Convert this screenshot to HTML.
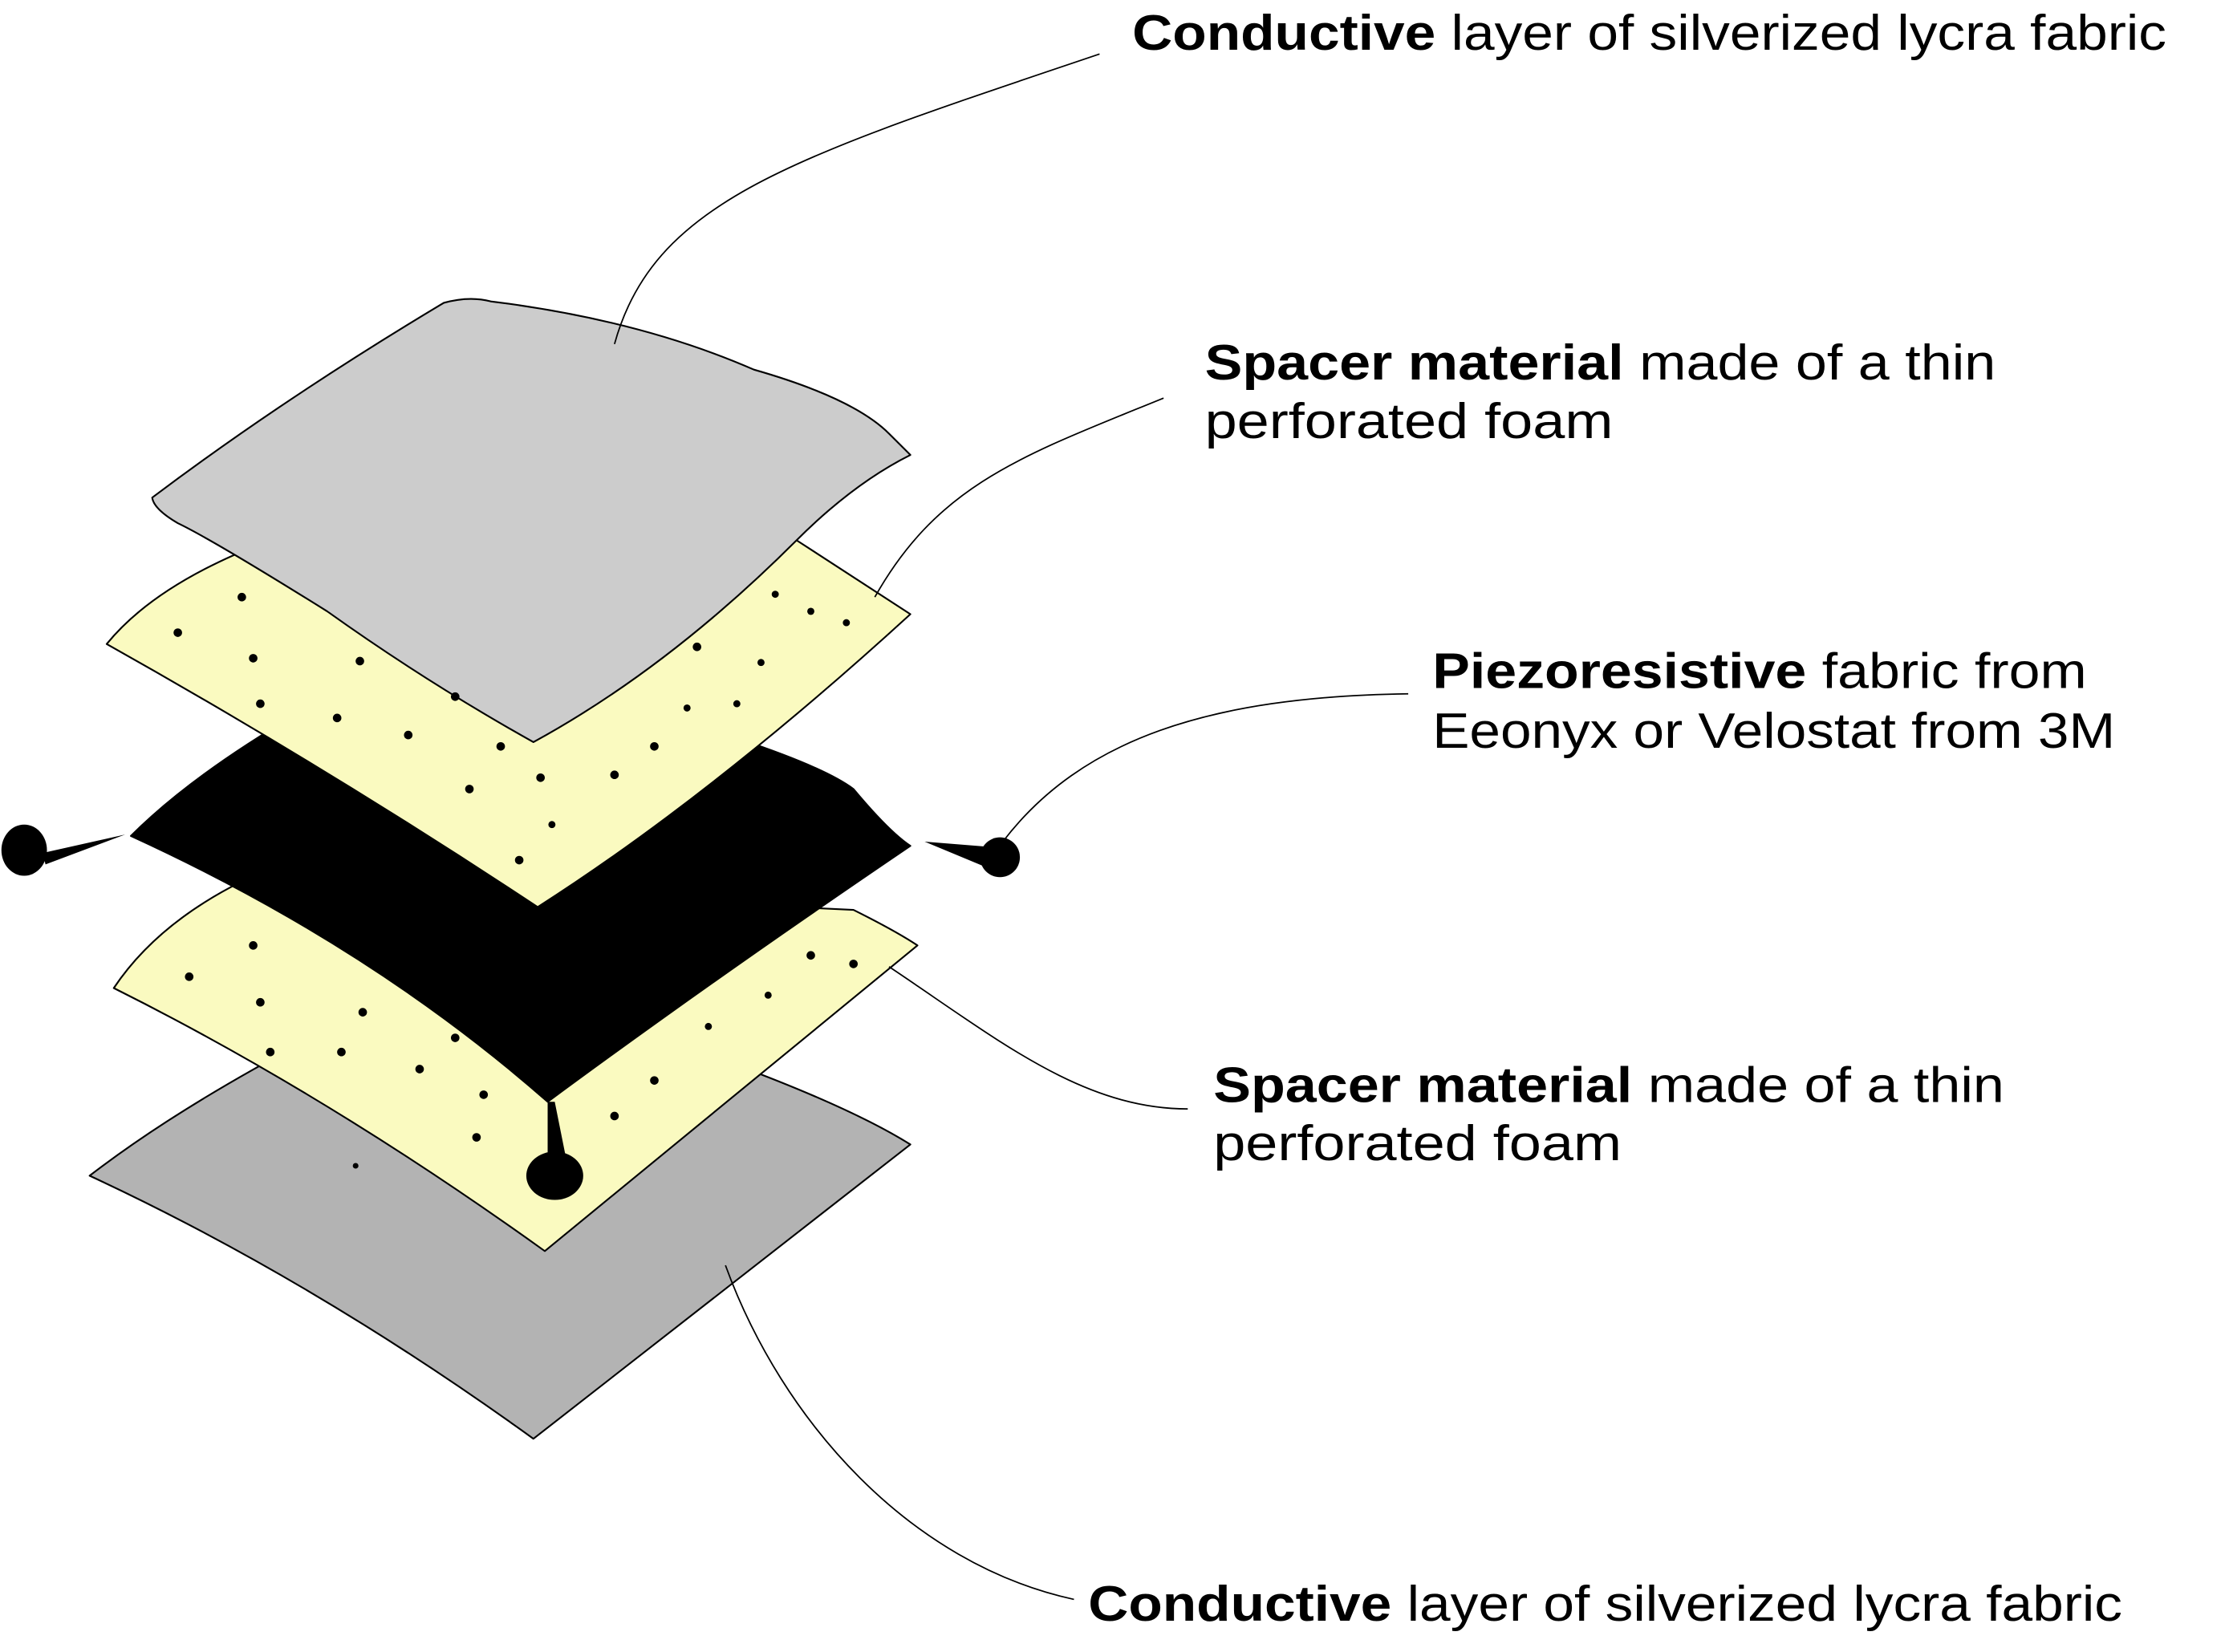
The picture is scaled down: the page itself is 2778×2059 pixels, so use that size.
<!DOCTYPE html>
<html><head><meta charset="utf-8"><style>html,body{margin:0;padding:0;background:#fff}svg{display:block}text{font-family:"Liberation Sans",sans-serif;font-size:35px;fill:#000}</style></head>
<body>
<svg width="2778" height="2059" viewBox="0 0 1567 1162" preserveAspectRatio="none" xmlns="http://www.w3.org/2000/svg">
<g stroke="#000" stroke-width="1.2" stroke-linejoin="round">
<path fill="#b3b3b3" d="M63,827 Q150,760 300,690 L520,750 Q600,780 640,805 L375,1012 Q220,900 63,827 Z"/>
<path fill="#fafac0" d="M80,695 Q110,650 170,620 L600,640 Q630,655 645,665 L383,880 Q230,770 80,695 Z"/>
<path fill="#000" d="M92,588 Q140,540 230,490 L520,520 Q580,540 600,555 Q625,585 640,595 Q500,690 385,775 Q260,665 92,588 Z"/>
<path fill="#fafac0" d="M75,453 Q110,410 190,380 L560,380 L640,432 Q500,560 378,638 Q230,540 75,453 Z"/>
<path fill="#cccccc" d="M107,350 Q200,280 312,213 Q330,208 345,212 Q450,225 530,260 Q600,280 625,305 L640,320 Q600,340 560,380 Q470,470 375,522 Q300,480 230,430 Q150,380 125,368 Q108,358 107,350 Z"/>
</g>
<g fill="#000">
<circle cx="125" cy="445" r="3"/><circle cx="170" cy="420" r="3"/><circle cx="178" cy="463" r="3"/><circle cx="183" cy="495" r="3"/><circle cx="237" cy="505" r="3"/><circle cx="253" cy="465" r="3"/><circle cx="287" cy="517" r="3"/><circle cx="320" cy="490" r="3"/><circle cx="352" cy="525" r="3"/><circle cx="330" cy="555" r="3"/><circle cx="380" cy="547" r="3"/><circle cx="432" cy="545" r="3"/><circle cx="365" cy="605" r="3"/><circle cx="388" cy="580" r="2.5"/><circle cx="460" cy="525" r="3"/><circle cx="490" cy="455" r="3"/><circle cx="535" cy="466" r="2.5"/><circle cx="545" cy="418" r="2.5"/><circle cx="570" cy="430" r="2.5"/><circle cx="595" cy="438" r="2.5"/><circle cx="518" cy="495" r="2.5"/><circle cx="483" cy="498" r="2.5"/>
<circle cx="133" cy="687" r="3"/><circle cx="178" cy="665" r="3"/><circle cx="183" cy="705" r="3"/><circle cx="190" cy="740" r="3"/><circle cx="240" cy="740" r="3"/><circle cx="255" cy="712" r="3"/><circle cx="295" cy="752" r="3"/><circle cx="320" cy="730" r="3"/><circle cx="340" cy="770" r="3"/><circle cx="335" cy="800" r="3"/><circle cx="432" cy="785" r="3"/><circle cx="460" cy="760" r="3"/><circle cx="498" cy="722" r="2.5"/><circle cx="600" cy="678" r="3"/><circle cx="570" cy="672" r="3"/><circle cx="540" cy="700" r="2.5"/><circle cx="250" cy="820" r="2"/>
</g>
<g fill="#000">
<ellipse cx="17" cy="598" rx="16" ry="18"/><path d="M30,600 L88,587 L32,608 Z"/>
<ellipse cx="703" cy="603" rx="14" ry="14"/><path d="M650,592 L700,596 L698,612 Z"/>
<ellipse cx="390" cy="827" rx="20" ry="17"/><path d="M385,775 L390,775 L398,815 L385,815 Z"/>
</g>
<g fill="none" stroke="#000" stroke-width="1">
<path d="M432,242 C460,140 560,110 773,38"/>
<path d="M615,420 C660,340 720,320 818,280"/>
<path d="M705,592 C760,520 850,490 990,488"/>
<path d="M625,680 C700,730 760,780 835,780"/>
<path d="M510,890 C550,1000 640,1100 755,1125"/>
</g>
<text x="796" y="35" textLength="727" lengthAdjust="spacingAndGlyphs"><tspan font-weight="bold">Conductive</tspan> layer of silverized lycra fabric</text>
<text x="847" y="267" textLength="556" lengthAdjust="spacingAndGlyphs"><tspan font-weight="bold">Spacer material</tspan> made of a thin</text>
<text x="847" y="308" textLength="287" lengthAdjust="spacingAndGlyphs">perforated foam</text>
<text x="1007" y="484" textLength="460" lengthAdjust="spacingAndGlyphs"><tspan font-weight="bold">Piezoresistive</tspan> fabric from</text>
<text x="1007" y="526" textLength="480" lengthAdjust="spacingAndGlyphs">Eeonyx or Velostat from 3M</text>
<text x="853" y="775" textLength="556" lengthAdjust="spacingAndGlyphs"><tspan font-weight="bold">Spacer material</tspan> made of a thin</text>
<text x="853" y="816" textLength="287" lengthAdjust="spacingAndGlyphs">perforated foam</text>
<text x="765" y="1140" textLength="727" lengthAdjust="spacingAndGlyphs"><tspan font-weight="bold">Conductive</tspan> layer of silverized lycra fabric</text>
</svg>
</body></html>
